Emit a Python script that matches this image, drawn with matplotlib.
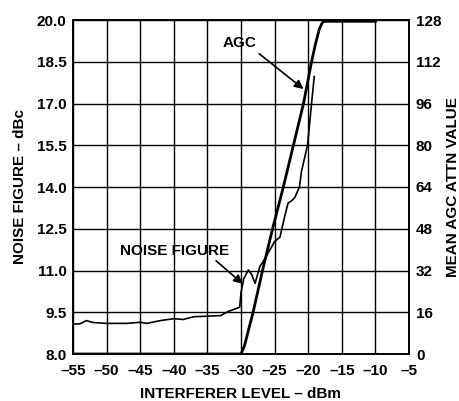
import matplotlib
matplotlib.use("Agg")
import matplotlib.pyplot as plt

# ==========================================================
# Data
# ==========================================================
nf_x = [-55, -54, -53, -52, -50, -47, -45, -44, -42, -40, -38.6, -37, -35, -33,
        -32, -30.2, -30.0, -29.6, -28.9, -28.4, -27.9, -27.2, -26.4, -25.7, -25.0,
        -24.2, -23.5, -23.0, -22.4, -22.0, -21.3, -21.0, -20.1, -19.5, -19.1]
nf_y = [9.08, 9.08, 9.20, 9.13, 9.10, 9.10, 9.14, 9.10, 9.20, 9.27, 9.24, 9.34, 9.36, 9.38,
        9.52, 9.68, 10.2, 10.7, 11.02, 10.85, 10.54, 11.14, 11.44, 11.74, 12.04,
        12.2, 12.94, 13.42, 13.52, 13.62, 14.0, 14.56, 15.5, 17.0, 17.97]

agc_x = [-55, -30, -29.5, -29, -28.2, -26.8, -25.3, -23.7, -22.2, -20.7, -19.5,
         -18.9, -18.35, -17.9, -17.6, -10]
agc_y = [0, 0, 3, 8, 16, 32, 48, 64, 80, 96, 112, 119, 124.5, 127, 127.5, 127.5]

x_ticks = [-55, -50, -45, -40, -35, -30, -25, -20, -15, -10, -5]
nf_ticks = [8.0, 9.5, 11.0, 12.5, 14.0, 15.5, 17.0, 18.5, 20.0]
agc_ticks = [0, 16, 32, 48, 64, 80, 96, 112, 128]

plt.rcParams['font.family'] = ['Liberation Sans', 'DejaVu Sans']
plt.rcParams['font.weight'] = 'bold'
fs = 11

fig = plt.figure(figsize=(4.6, 4.01), dpi=100)
ax = fig.add_axes([73/460, 47/401, 336/460, 334/401])
ax2 = ax.twinx()

ax.set_xlim(-55, -5)
ax.set_ylim(8, 20)
ax2.set_ylim(0, 128)

ax.set_xticks(x_ticks)
ax.set_xticklabels([str(t).replace('-', '\u2013') for t in x_ticks])
ax.set_yticks(nf_ticks)
ax.set_yticklabels([f"{t:.1f}" for t in nf_ticks])
ax2.set_yticks(agc_ticks)
ax2.set_yticklabels([str(t) for t in agc_ticks])

ax.grid(True, color='black', lw=1.0)
ax.set_axisbelow(True)
for a in (ax, ax2):
    for s in a.spines.values():
        s.set_linewidth(1.2)
ax.tick_params(axis='both', length=0, labelsize=fs)
ax.tick_params(axis='x', pad=7)
ax.tick_params(axis='y', pad=4.5)
ax2.tick_params(axis='y', length=0, labelsize=fs, pad=5)

ax.plot(nf_x, nf_y, color='black', lw=1.2, zorder=3)
ax2.plot(agc_x, agc_y, color='black', lw=2.0, zorder=3)

ax.set_xlabel("INTERFERER LEVEL \u2013 dBm", fontsize=fs, fontweight='bold', labelpad=7)
ax.set_ylabel("NOISE FIGURE \u2013 dBc", fontsize=fs, fontweight='bold', labelpad=7)
ax2.set_ylabel("MEAN AGC ATTN VALUE", fontsize=fs, fontweight='bold', labelpad=3)

arrow = dict(arrowstyle='-|>', color='black', lw=1.2, mutation_scale=13,
             shrinkA=0, shrinkB=0)
ax.annotate("AGC", xy=(-20.7, 17.52), xytext=(-30.2, 19.17), fontsize=fs,
            fontweight='bold', ha='center', va='center', zorder=5)
ax.annotate("", xy=(-20.7, 17.52), xytext=(-27.3, 18.79), arrowprops=arrow, zorder=5)
ax.annotate("NOISE FIGURE", xy=(-29.75, 10.52), xytext=(-39.9, 11.70), fontsize=fs,
            fontweight='bold', ha='center', va='center', zorder=5)
ax.annotate("", xy=(-29.75, 10.52), xytext=(-33.7, 11.35), arrowprops=arrow, zorder=5)

fig.savefig("out.png", dpi=100)
